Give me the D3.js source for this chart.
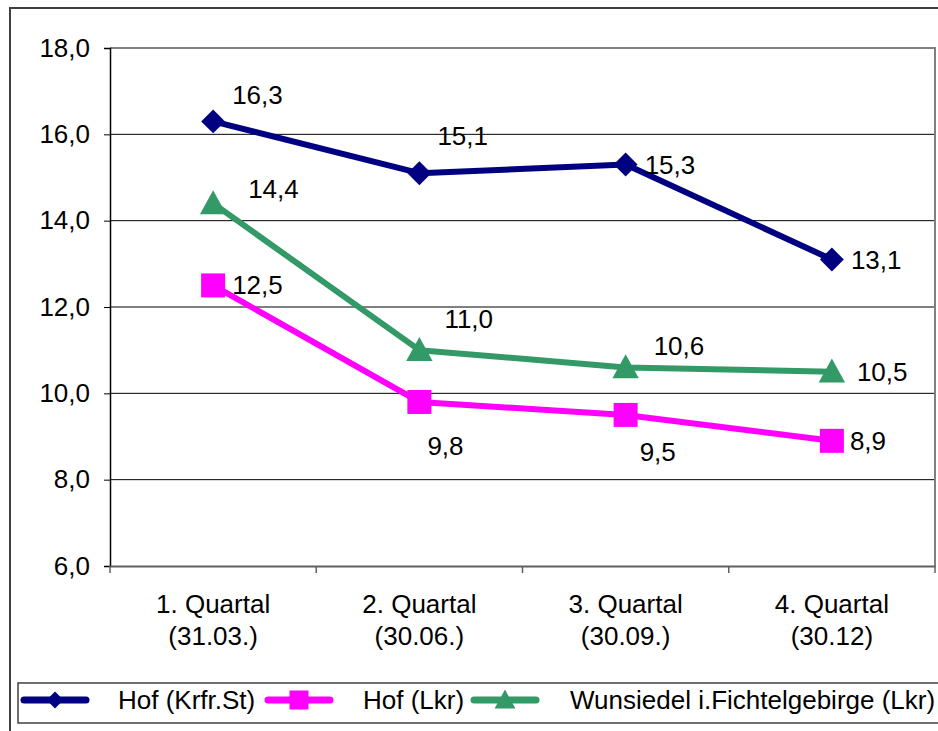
<!DOCTYPE html>
<html>
<head>
<meta charset="utf-8">
<script src="https://cdn.jsdelivr.net/npm/d3@7"></script>
<style>
  body { margin: 0; background: #fff; }
  svg text { font-family: "Liberation Sans", Arial, sans-serif; fill: #000; }
</style>
</head>
<body>
<div id="chart"></div>
<script>
(function () {
    var width = 938,
        height = 731,
        fontSize = "26px";

    // data
    var categories = ["1. Quartal|(31.03.)", "2. Quartal|(30.06.)", "3. Quartal|(30.09.)", "4. Quartal|(30.12)"];
    var seriesNames = ["Hof (Krfr.St)", "Hof (Lkr)", "Wunsiedel i.Fichtelgebirge (Lkr)"];
    var hofStadt = [16.3, 15.1, 15.3, 13.1];
    var hofLkr = [12.5, 9.8, 9.5, 8.9];
    var wunsiedel = [14.4, 11.0, 10.6, 10.5];
    var yTicks = [6, 8, 10, 12, 14, 16, 18];

    // label placement (dx, dy from point)
    var labelOffsets = [
        [[19, -17], [18, -28], [19, 9], [19, 9]],
        [[19, 9], [8, 53], [14, 46], [18, 9]],
        [[35, -5], [25, -22], [28, -12], [25, 9]]
    ];

    var colors = ["#000080", "#ff00ff", "#339966"];
    var shapes = ["diamond", "square", "triangle"];
    var values = [hofStadt, hofLkr, wunsiedel];

    var margin = { left: 110, top: 48, right: 935, bottom: 566 };

    var svg = d3.select("#chart")
        .append("svg")
        .attr("width", width)
        .attr("height", height)

    // outer frame
    svg.append("rect")
        .attr("x", 10).attr("y", 8)
        .attr("width", 940).attr("height", 740)
        .attr("fill", "#fff")
        .attr("stroke", "#404040")
        .attr("stroke-width", 2)

    var x = d3.scaleBand().domain(categories).range([margin.left, margin.right])
    var y = d3.scaleLinear().domain([6, 18]).range([margin.bottom, margin.top])

    // gridlines
    svg.append("g")
        .selectAll("line")
        .data(yTicks.slice(1, -1))
        .enter().append("line")
        .attr("x1", margin.left).attr("x2", margin.right)
        .attr("y1", d => y(d)).attr("y2", d => y(d))
        .attr("stroke", "#000").attr("stroke-width", 1)

    // plot frame top / right
    svg.append("path")
        .attr("d", "M" + margin.left + "," + margin.top + "H" + margin.right + "V" + margin.bottom)
        .attr("fill", "none")
        .attr("stroke", "#808080")
        .attr("stroke-width", 2)

    // y axis
    var yAxis = svg.append("g")
        .attr("transform", "translate(" + margin.left + ",0)")
        .call(d3.axisLeft(y).tickValues(yTicks).tickSize(6).tickPadding(14)
            .tickFormat(d => d3.format(".1f")(d).replace(".", ",")))
    yAxis.select(".domain").attr("stroke", "#000").attr("stroke-width", 1.5)
    yAxis.selectAll(".tick line").attr("stroke", "#000")
    yAxis.selectAll("text").style("font-size", fontSize).attr("fill", "#000")

    // x axis
    var xAxis = svg.append("g")
        .attr("transform", "translate(0," + margin.bottom + ")")
        .call(d3.axisBottom(x).tickSize(0).tickFormat(""))
    xAxis.select(".domain").attr("stroke", "#606060").attr("stroke-width", 2)
    xAxis.selectAll(".tick").remove()

    var xTickPos = categories.map(c => x(c)).concat([margin.right])
    xAxis.selectAll(".xtick")
        .data(xTickPos)
        .enter().append("line")
        .attr("x1", d => d).attr("x2", d => d)
        .attr("y1", 0).attr("y2", 7)
        .attr("stroke", "#606060").attr("stroke-width", 1.5)

    var xLabels = svg.append("g")
        .selectAll("text")
        .data(categories)
        .enter().append("text")
        .attr("text-anchor", "middle")
        .style("font-size", fontSize)
        .attr("x", d => x(d) + x.bandwidth() / 2)
    xLabels.append("tspan").attr("y", 613).attr("x", d => x(d) + x.bandwidth() / 2).text(d => d.split("|")[0])
    xLabels.append("tspan").attr("y", 645).attr("x", d => x(d) + x.bandwidth() / 2).text(d => d.split("|")[1])

    var cx = function (i) { return x(categories[i]) + x.bandwidth() / 2 }

    function marker(sel, shape, size) {
        if (shape === "diamond") {
            sel.append("path").attr("d", d3.symbol(d3.symbolDiamond2, size * size * 0.5)())
        } else if (shape === "square") {
            sel.append("rect").attr("x", -size / 2).attr("y", -size / 2)
                .attr("width", size).attr("height", size)
        } else {
            sel.append("path").attr("d", "M0," + (-size * 0.55) + "L" + (size * 0.55) + "," + (size * 0.45) + "L" + (-size * 0.55) + "," + (size * 0.45) + "Z")
        }
    }

    var line = d3.line().x((d, i) => cx(i)).y(d => y(d))

    values.forEach(function (vals, s) {
        var g = svg.append("g")
        g.append("path")
            .datum(vals)
            .attr("d", line)
            .attr("fill", "none")
            .attr("stroke", colors[s])
            .attr("stroke-width", 6)
            .attr("stroke-linejoin", "round")

        vals.forEach(function (v, i) {
            var m = g.append("g")
                .attr("transform", "translate(" + cx(i) + "," + y(v) + ")")
                .attr("fill", colors[s])
            marker(m, shapes[s], s === 0 ? 27 : 24)
        })

        g.selectAll(".lbl")
            .data(vals)
            .enter().append("text")
            .attr("x", (d, i) => cx(i) + labelOffsets[s][i][0])
            .attr("y", (d, i) => y(d) + labelOffsets[s][i][1])
            .style("font-size", fontSize)
            .text(d => d3.format(".1f")(d).replace(".", ","))
    })

    // legend
    var legend = svg.append("g")
    legend.append("rect")
        .attr("x", 18).attr("y", 683)
        .attr("width", 940).attr("height", 40)
        .attr("fill", "#fff")
        .attr("stroke", "#404040")
        .attr("stroke-width", 1.5)

    var legendX = [[24, 86, 118], [268, 330, 363], [474, 536, 570]]
    seriesNames.forEach(function (name, s) {
        var lg = legend.append("g")
        lg.append("line")
            .attr("x1", legendX[s][0]).attr("x2", legendX[s][1])
            .attr("y1", 700).attr("y2", 700)
            .attr("stroke", colors[s])
            .attr("stroke-width", 7)
            .attr("stroke-linecap", "round")
        var m = lg.append("g")
            .attr("transform", "translate(" + (legendX[s][0] + legendX[s][1]) / 2 + ",700)")
            .attr("fill", colors[s])
        marker(m, shapes[s], 19)
        lg.append("text")
            .attr("x", legendX[s][2])
            .attr("y", 709)
            .style("font-size", fontSize)
            .text(name)
    })
})();
</script>
</body>
</html>
